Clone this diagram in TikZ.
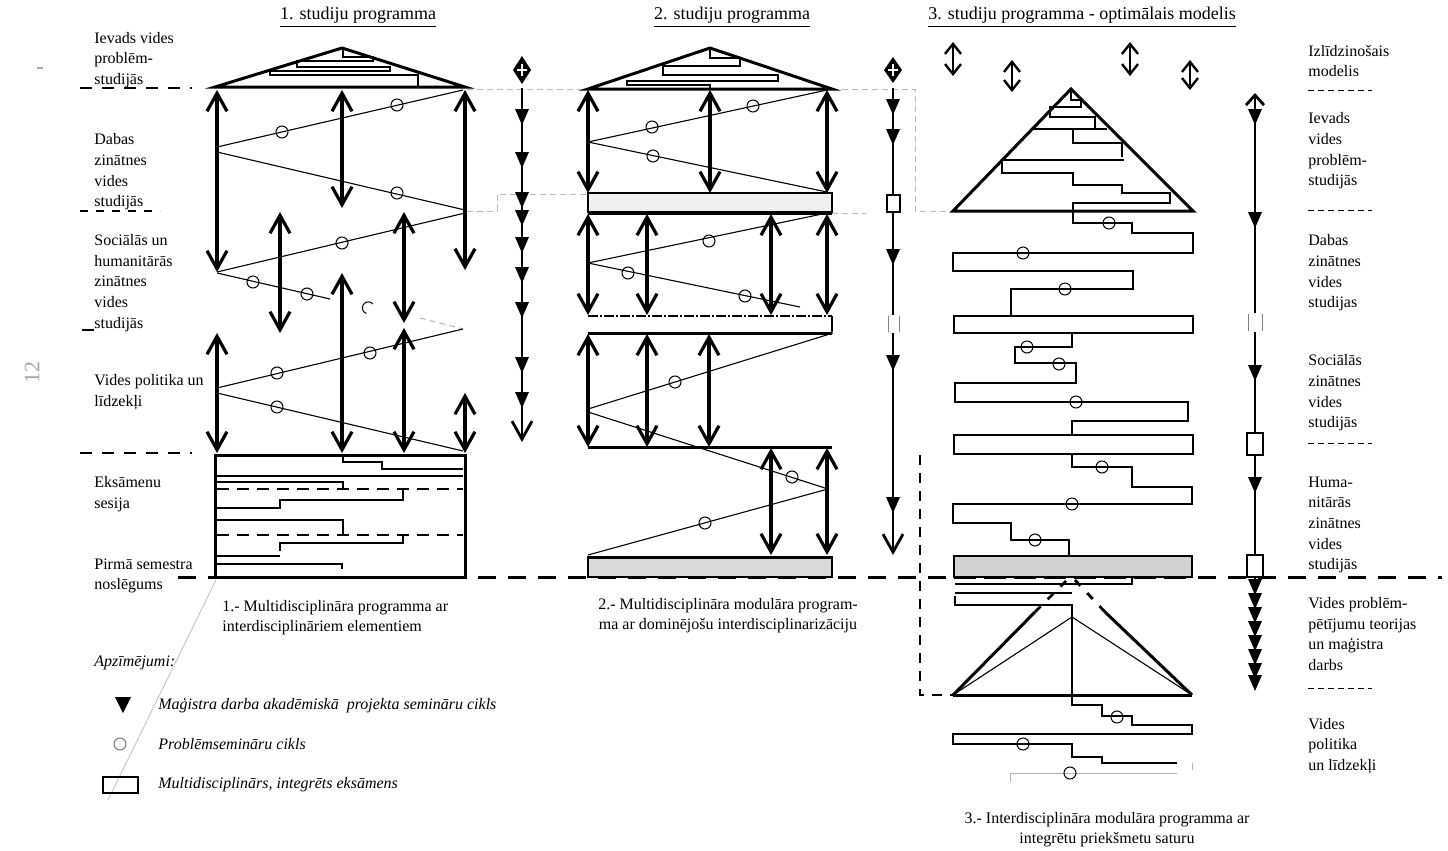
\documentclass[tikz,border=0pt]{standalone}
\usepackage{fontspec}
\setmainfont{Liberation Serif}
\usetikzlibrary{arrows.meta}
\newcommand\semc[2]{\draw[line width=0.5pt] (#1,#2) circle[radius=3pt];}
\newcommand\dtri[2]{\fill (#1-7,#2-8)--(#1+7,#2-8)--(#1,#2+8)--cycle;}
\begin{document}
\begin{tikzpicture}[x=0.5pt,y=-0.5pt,
  lbl/.style={font=\fontsize{8}{10.3}\selectfont, align=left, anchor=west, inner sep=0pt},
  ttl/.style={font=\fontsize{9}{11}\selectfont, inner sep=0pt},
  capt/.style={font=\fontsize{8}{10}\selectfont, inner sep=0pt},
  leg/.style={font=\fontsize{8}{10}\selectfont\itshape, anchor=west, inner sep=0pt},
  thk/.style={line width=1.5pt, line join=miter},
  thn/.style={line width=0.55pt},
  faint/.style={line width=0.5pt, gray!55, dash pattern=on 3pt off 2pt},
  dar/.style={line width=1.6pt, {Straight Barb[length=9pt,width=10pt]}-{Straight Barb[length=9pt,width=10pt]}},
  sar/.style={line width=1.2pt, {Straight Barb[length=5pt,width=8pt]}-{Straight Barb[length=5pt,width=8pt]}},
  bigdash/.style={line width=1.5pt, dash pattern=on 9pt off 6pt},
  lbldash/.style={line width=0.9pt, dash pattern=on 6pt off 5pt},
  rdash/.style={line width=0.4pt, dash pattern=on 3pt off 2pt}
]
\useasboundingbox (0,0) rectangle (1448,851);
\fill[white] (0,0) rectangle (1448,851);

% ---------- titles ----------
\node[ttl] (t1) at (358,17) {\underline{1. studiju programma}};
\node[ttl] (t2) at (732,17) {\underline{2. studiju programma}};
\node[ttl] (t3) at (1082,17) {\underline{3. studiju programma - optimālais modelis}};

% page marks
\node[font=\fontsize{11}{12}\selectfont, text=gray!70, rotate=90] (pg) at (32,372) {12};
\draw[gray!70, line width=0.8pt] (37,68)--(43,68);

% ---------- left labels ----------
\node[lbl] (l1) at (94,60) {Ievads vides\\problēm-\\studijās};
\node[lbl] (l2) at (94,172) {Dabas\\zinātnes\\vides\\studijās};
\node[lbl] (l3) at (94,283) {Sociālās un\\humanitārās\\zinātnes\\vides\\studijās};
\node[lbl] (l4) at (94,392) {Vides politika un\\līdzekļi};
\node[lbl] (l5) at (94,494) {Eksāmenu\\sesija};
\node[lbl] (l6) at (94,576) {Pirmā semestra\\noslēgums};
\draw[lbldash] (80,88)--(192,88);
\draw[line width=0.6pt, dash pattern=on 4pt off 4pt] (80,211)--(160,211);
\draw[line width=0.6pt] (82,330)--(94,330);
\draw[lbldash] (80,453)--(192,453);

% ---------- right labels ----------
\node[lbl] (r1) at (1308,61) {Izlīdzinošais\\modelis};
\node[lbl] (r2) at (1308,151) {Ievads\\vides\\problēm-\\studijās};
\node[lbl] (r3) at (1308,273) {Dabas\\zinātnes\\vides\\studijas};
\node[lbl] (r4) at (1308,393) {Sociālās\\zinātnes\\vides\\studijās};
\node[lbl] (r5) at (1308,525) {Huma-\\nitārās\\zinātnes\\vides\\studijās};
\node[lbl] (r6) at (1308,634) {Vides problēm-\\pētījumu teorijas\\un maģistra\\darbs};
\node[lbl] (r7) at (1308,746) {Vides\\politika\\un līdzekļi};
\draw[rdash] (1308,90)--(1372,90);
\draw[rdash] (1308,210)--(1372,210);
\draw[rdash] (1308,443)--(1372,443);
\draw[rdash] (1308,688)--(1372,688);

% ---------- main dashed line ----------
\draw[bigdash] (178,577)--(1442,577);

% faint connecting dashes
\draw[faint] (467,89)--(588,89);
\draw[faint] (832,89)--(915,89)--(915,211)--(953,211);
\draw[faint] (467,211)--(497,211)--(497,194)--(588,194);
\draw[faint] (832,213)--(866,213);
\draw[faint] (420,318)--(463,329);

% =========== PANEL 1 ===========
\draw[thk] (215,87)--(342,48)--(465,87)--cycle;
\draw[thn] (343,50)--(343,57)--(373,57)--(373,61)--(297,61)--(297,67)--(390,67)--(390,71)--(270,71)--(270,75)--(418,75)--(418,87);
% zigzags
\draw[thn] (463,90)--(217,147);
\semc{397}{105}\semc{282}{132}
\draw[thn] (217,152)--(465,210);
\semc{397}{193}
\draw[thn] (465,213)--(217,272);
\semc{342}{243}
\draw[thn] (217,273)--(330,299);
\semc{253}{282}\semc{307}{294}
\draw[line width=0.5pt] (373,304) arc[start angle=40,end angle=250,radius=3pt];
\draw[thn] (463,329)--(217,388);
\semc{370}{353}\semc{277}{373}
\draw[thn] (217,393)--(463,451);
\semc{277}{407}
% double arrows
\draw[dar] (217,90)--(217,272);
\draw[dar] (342,90)--(342,208);
\draw[dar] (465,90)--(465,270);
\draw[dar] (280,212)--(280,333);
\draw[dar] (404,212)--(404,323);
\draw[dar] (342,273)--(342,453);
\draw[dar] (217,333)--(217,453);
\draw[dar] (404,328)--(404,453);
\draw[dar] (465,393)--(465,453);
% exam box
\draw[thk] (215,455) rectangle (465,577);
\draw[thn] (343,455)--(343,462)--(382,462)--(382,469)--(463,469);
\draw[thn] (217,476)--(463,476);
\draw[thn] (217,482)--(343,482)--(343,488);
\draw[line width=1.1pt, dash pattern=on 6pt off 4pt] (217,489)--(463,489);
\draw[thn] (403,489)--(403,500)--(280,500)--(280,508)--(217,508);
\draw[thn] (217,520)--(343,520)--(343,535);
\draw[line width=1.1pt, dash pattern=on 6pt off 4pt] (217,535)--(463,535);
\draw[thn] (403,535)--(403,543)--(280,543)--(280,551);
\draw[thn] (217,556)--(280,556);
\draw[thn] (217,564)--(342,564)--(342,569);
\draw[line width=0.4pt, gray!50] (216,580)--(108,800);

% column 1
\draw[line width=1.4pt, -{Straight Barb[length=9pt,width=10pt]}] (522,88)--(522,442);
\fill (522,56)--(531,70)--(522,84)--(513,70)--cycle;
\draw[white, line width=0.6pt] (517,70)--(527,70) (522,64)--(522,76);
\foreach \yy in {117,160,200,218,245,275,310,365,400} {\dtri{522}{\yy}}

% =========== PANEL 2 ===========
\draw[thk] (588,89)--(710,48)--(832,89)--cycle;
\draw[thn] (710,50)--(710,58)--(740,58)--(740,66)--(663,66)--(663,75)--(778,75)--(778,81)--(627,81)--(627,85)--(710,85)--(710,89);
\draw[thn, fill=gray!12] (588,193) rectangle (832,212);
\draw[thk] (588,213)--(832,213);
\draw[line width=0.6pt, dash pattern=on 5pt off 1pt on 1pt off 1pt] (588,316)--(832,316);
\draw[thn] (832,316)--(832,332);
\draw[thk] (588,333)--(832,333);
\draw[thk] (588,447)--(832,447);
\draw[thn, fill=gray!30] (588,557) rectangle (832,577);
\draw[thk] (588,557)--(832,557);
% zigzags
\draw[thn] (827,90)--(588,142);
\semc{753}{106}\semc{652}{127}
\draw[thn] (588,142)--(827,192);
\semc{653}{156}
\draw[thn] (827,213)--(588,263);
\semc{709}{241}
\draw[thn] (588,263)--(800,307);
\semc{628}{273}\semc{745}{296}
\draw[thn] (833,333)--(588,409);
\semc{675}{382}
\draw[thn] (588,412)--(828,489);
\semc{792}{477}
\draw[thn] (828,489)--(588,555);
\semc{705}{523}
% double arrows
\draw[dar] (588,90)--(588,193);
\draw[dar] (710,90)--(710,193);
\draw[dar] (827,90)--(827,193);
\draw[dar] (588,214)--(588,315);
\draw[dar] (647,214)--(647,315);
\draw[dar] (771,214)--(771,315);
\draw[dar] (827,214)--(827,315);
\draw[dar] (588,334)--(588,447);
\draw[dar] (647,334)--(647,447);
\draw[dar] (709,334)--(709,447);
\draw[dar] (771,448)--(771,555);
\draw[dar] (827,448)--(827,555);

% column 2
\draw[line width=1.4pt, -{Straight Barb[length=9pt,width=10pt]}] (893,88)--(893,555);
\fill (893,57)--(902,70)--(893,83)--(884,70)--cycle;
\draw[white, line width=0.6pt] (888,70)--(898,70) (893,64)--(893,76);
\draw[line width=0.6pt, fill=white] (887,195) rectangle (900,212);
\fill[white] (886,315) rectangle (901,333);
\draw[line width=0.5pt, gray] (888,316)--(888,332) (899,316)--(899,332);
\foreach \yy in {107,137,257,363,505} {\dtri{893}{\yy}}

% =========== PANEL 3 ===========
\draw[sar] (953,42)--(953,76);
\draw[sar] (1012,60)--(1012,92);
\draw[sar] (1130,42)--(1130,76);
\draw[sar] (1190,60)--(1190,90);
\draw[thk] (953,211)--(1071,89)--(1193,211)--cycle;
\draw[thn] (1071,91)--(1071,100)--(1081,100)--(1081,107)--(1050,107)--(1050,117)--(1095,117)--(1095,129);
\draw[line width=0.9pt] (1032,129)--(1107,129);
\draw[thn] (1073,129)--(1073,143)--(1122,143)--(1122,157);
\draw[line width=0.9pt] (1002,160)--(1124,160);
\draw[thn] (1002,160)--(1002,173)--(1073,173)--(1073,185)--(1122,185)--(1122,193)--(1170,193)--(1170,203)--(1073,203)--(1073,223)--(1132,223)--(1132,233)--(1193,233)--(1193,253)--(953,253)--(953,271)--(1133,271)--(1133,289)--(1011,289)--(1011,315);
\semc{1109}{223}\semc{1023}{253}\semc{1065}{289}
\draw[thn] (954,316) rectangle (1193,333);
\draw[line width=0.8pt] (954,333)--(1193,333);
\draw[thn] (1072,333)--(1072,347)--(1015,347)--(1015,363)--(1076,363)--(1076,383)--(955,383)--(955,402)--(1188,402)--(1188,421)--(1072,421)--(1072,435);
\semc{1027}{347}\semc{1059}{364}\semc{1076}{402}
\draw[line width=0.8pt] (954,435) rectangle (1193,454);
\draw[thn] (1072,454)--(1072,467)--(1132,467)--(1132,487)--(1192,487)--(1192,504)--(953,504)--(953,523)--(1011,523)--(1011,540)--(1069,540)--(1069,556);
\semc{1102}{467}\semc{1072}{504}\semc{1035}{540}
\draw[line width=0.8pt, fill=gray!35] (954,556) rectangle (1192,577);
\draw[bigdash] (954,577)--(1192,577);
% below the line
\draw[thn] (1132,578)--(1132,584)--(955,584);
\draw[thn] (955,593)--(1072,593);
\draw[thn] (955,596)--(955,605)--(1072,605)--(1072,705)--(1102,705)--(1102,716)--(1132,716)--(1132,725)--(1192,725)--(1192,734)--(953,734)--(953,744)--(1072,744)--(1072,757)--(1102,757)--(1102,763)--(1177,763);
\semc{1117}{717}\semc{1023}{744}
\draw[line width=0.5pt, gray!60] (1192,763)--(1192,770);
\draw[line width=0.5pt, gray!60] (1010,782)--(1010,773)--(1177,773);
\semc{1070}{773}
% lower pyramid
\draw[thk] (953,695)--(1192,695);
\draw[thk] (953,695)--(1035,612);
\draw[thk] (1192,695)--(1105,612);
\draw[line width=1.4pt, dash pattern=on 4pt off 5pt] (1035,612)--(1068,579);
\draw[line width=1.4pt, dash pattern=on 4pt off 5pt] (1105,612)--(1074,579);
\draw[thn] (953,695)--(1072,617)--(1192,695);
\draw[line width=0.8pt, dash pattern=on 5pt off 4pt] (920,455)--(920,695)--(953,695);

% column 3 (right)
\draw[line width=1.4pt, {Straight Barb[length=5pt,width=9pt]}-] (1255,93)--(1255,688);
\foreach \yy in {117,220,373,485} {\dtri{1255}{\yy}}
\fill[white] (1247,313) rectangle (1263,332);
\draw[line width=0.5pt, gray] (1248,314)--(1248,331) (1262,314)--(1262,331);
\draw[line width=0.6pt, fill=white] (1247,433) rectangle (1263,455);
\draw[line width=0.6pt, fill=white] (1247,555) rectangle (1263,577);
\foreach \yy in {587,601,615,629,643,657,671,683} {\dtri{1255}{\yy}}

% ---------- captions ----------
\node[capt, align=left, anchor=west] (c1) at (222,618) {1.- Multidisciplināra programma ar\\interdisciplināriem elementiem};
\node[capt, align=center] (c2) at (728,616) {2.- Multidisciplināra modulāra program-\\ma ar dominējošu interdisciplinarizāciju};
\node[capt, align=center] (c3) at (1107,830) {3.- Interdisciplināra modulāra programma ar\\integrētu priekšmetu saturu};

% ---------- legend ----------
\node[leg] (apz) at (94,663) {Apzīmējumi:};
\fill (115,697)--(131,697)--(123,713)--cycle;
\node[leg] (lg1) at (158,705) {Maģistra darba akadēmiskā\ \ projekta semināru cikls};
\draw[gray, line width=0.5pt] (120,744) circle[radius=3pt];
\node[leg] (lg2) at (158,744) {Problēmsemināru cikls};
\draw[thn] (103,777) rectangle (138,793);
\node[leg] (lg3) at (158,785) {Multidisciplinārs, integrēts eksāmens};
\end{tikzpicture}
\end{document}
